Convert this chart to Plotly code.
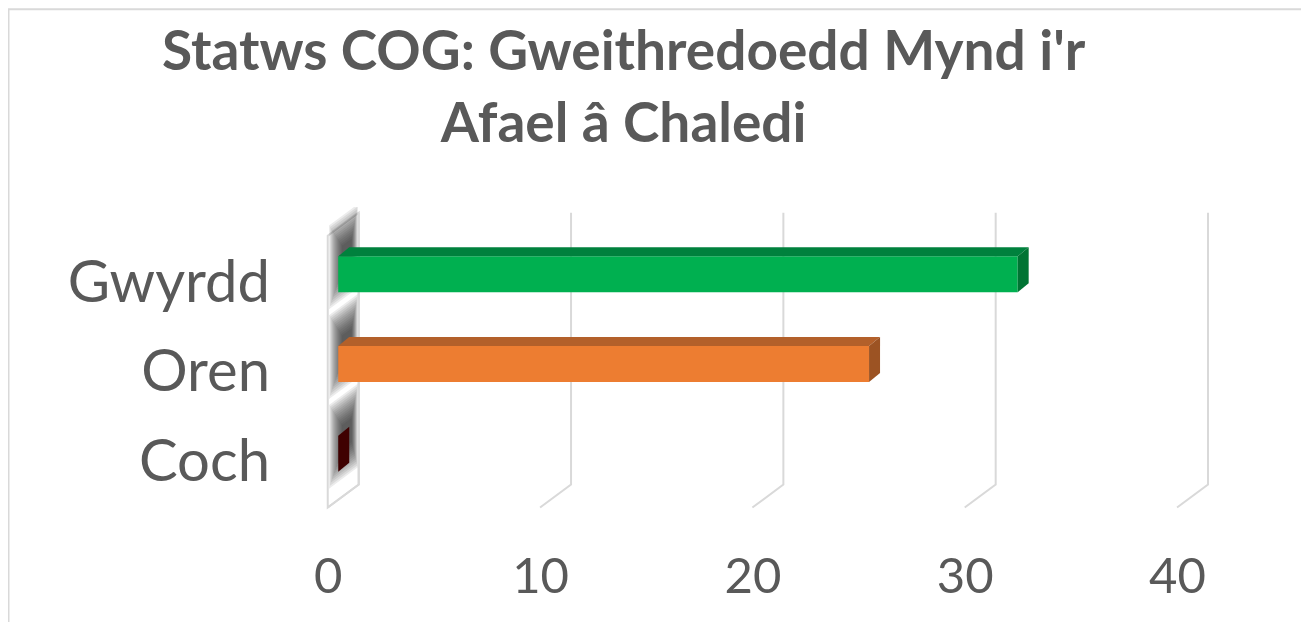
import plotly.graph_objects as go

categories = ["Coch", "Oren", "Gwyrdd"]
values = [0, 25, 32]
tick_vals = [0, 10, 20, 30, 40]
title_text = "Statws COG: Gweithredoedd Mynd i'r<br>Afael â Chaledi"

FRONT = {"Coch": "#c00000", "Oren": "#ed7d31", "Gwyrdd": "#00b050"}
TOP = {"Coch": "#5a0000", "Oren": "#b3602a", "Gwyrdd": "#00813d"}
SIDE = {"Coch": "#3f0000", "Oren": "#9c5323", "Gwyrdd": "#007433"}
GRID = "#d9d9d9"
TEXT = "#595959"

OFF = 8                # page body margin; targets below are in window pixels
W, H = 1309 - OFF, 622 - OFF
PX_X = 21.25           # pixels per x unit
PX_Y = 90.0            # pixels per category
X_RANGE = [-1, 42]
Y_RANGE = [-0.75, 2.75]
L = 338 - OFF - (0 - X_RANGE[0]) * PX_X
PW = (X_RANGE[1] - X_RANGE[0]) * PX_X
T = 274 - OFF - (Y_RANGE[1] - 2) * PX_Y
PH = (Y_RANGE[1] - Y_RANGE[0]) * PX_Y
R = W - L - PW
B = H - T - PH

BAR_W = 0.4
DEPTH = (11, -9)       # bar top/side offset in px
WALL_FRONT = -10.5     # px offset of wall front edge from x=0
WALL_D = (31, -23)     # wall depth vector in px
WALL_TOP = 2.43        # y units at front edge
WALL_BOT = -0.6


def u(x, y, dxp=0.0, dyp=0.0):
    return x + dxp / PX_X, y - dyp / PX_Y


def wall_pt(t, y_front):
    return u(0, y_front, WALL_FRONT + WALL_D[0] * t, WALL_D[1] * t)


def path(pts):
    return "M " + " L ".join(f"{x:.4f},{y:.4f}" for x, y in pts) + " Z"


def ppx(px, py):
    # window pixel -> paper coords
    return (px - OFF - L) / PW, (T + PH - (py - OFF)) / PH


fig = go.Figure()
shapes = []

# back wall
wall = [wall_pt(0, WALL_BOT), wall_pt(0, WALL_TOP), wall_pt(1, WALL_TOP), wall_pt(1, WALL_BOT)]
shapes.append(dict(type="path", path=path(wall), xref="x", yref="y", layer="below",
                   fillcolor="white", line=dict(color=GRID, width=2)))

# soft shadows on the wall (stacked translucent layers fake a blur)
ys = list(range(len(categories)))
N = 14
for yi in ys:
    for k in range(N):
        f = k / (N - 1)
        h = (42 - 30 * f) / PX_Y
        c = yi + 6 / PX_Y
        t0, t1 = 0.04 + 0.42 * f, 0.97 - 0.2 * f
        pts = [wall_pt(t0, c - h), wall_pt(t0, c + h), wall_pt(t1, c + h), wall_pt(t1, c - h)]
        shapes.append(dict(type="path", path=path(pts), xref="x", yref="y", layer="below",
                           fillcolor="rgba(40,40,40,0.085)", line=dict(width=0)))

# gridlines (back plane + floor diagonal)
for v in tick_vals:
    bx = v + (WALL_FRONT + WALL_D[0]) / PX_X
    fx = v + WALL_FRONT / PX_X
    top_b = WALL_TOP - WALL_D[1] / PX_Y
    bot_b = WALL_BOT - WALL_D[1] / PX_Y
    shapes.append(dict(type="path", path=f"M {fx:.4f},{WALL_BOT} L {bx:.4f},{bot_b:.4f} L {bx:.4f},{top_b:.4f}",
                       xref="x", yref="y", layer="below", line=dict(color=GRID, width=2)))

# chart border
x0, y0 = ppx(8, 8)
x1, y1 = ppx(1307, 640)
shapes.append(dict(type="rect", xref="paper", yref="paper", x0=x0, y0=y0, x1=x1, y1=y1,
                   line=dict(color="#d9d9d9", width=2), layer="below"))

fig.add_trace(go.Bar(
    x=values, y=ys, orientation="h", width=BAR_W,
    marker=dict(color=[FRONT[c] for c in categories], line=dict(width=0)),
    hoverinfo="skip", showlegend=False))

for yi, cat, v in zip(ys, categories, values):
    top = yi + BAR_W / 2
    bot = yi - BAR_W / 2
    if v > 0:
        pts = [u(0, top), u(v, top), u(v, top, *DEPTH), u(0, top, *DEPTH), u(0, top)]
        fig.add_trace(go.Scatter(x=[p[0] for p in pts], y=[p[1] for p in pts], mode="lines",
                                 fill="toself", fillcolor=TOP[cat], line=dict(width=0),
                                 hoverinfo="skip", showlegend=False))
    pts = [u(v, bot), u(v, top), u(v, top, *DEPTH), u(v, bot, *DEPTH), u(v, bot)]
    fig.add_trace(go.Scatter(x=[p[0] for p in pts], y=[p[1] for p in pts], mode="lines",
                             fill="toself", fillcolor=SIDE[cat], line=dict(width=0),
                             hoverinfo="skip", showlegend=False))

tx, ty = ppx(624, 13)
fig.add_annotation(text=title_text, x=tx, y=ty, xref="paper", yref="paper",
                   xanchor="center", yanchor="top", showarrow=False,
                   font=dict(family="Lato", size=55, color=TEXT, weight="bold"))

fig.update_layout(
    width=W, height=H,
    margin=dict(l=L, r=R, t=T, b=B, autoexpand=False),
    paper_bgcolor="white", plot_bgcolor="rgba(0,0,0,0)",
    xaxis=dict(range=X_RANGE, tickvals=tick_vals, showgrid=False, zeroline=False,
               showline=False, ticks="", ticklabelshift=-10, ticklabelstandoff=22,
               tickfont=dict(family="Lato", size=49, color=TEXT), fixedrange=True),
    yaxis=dict(range=Y_RANGE, tickvals=ys, ticktext=categories, showgrid=False,
               zeroline=False, showline=False, ticks="", ticklabelstandoff=46,
               ticklabelshift=7,
               tickfont=dict(family="Lato", size=58, color=TEXT), fixedrange=True),
    shapes=shapes,
    showlegend=False,
)

fig.write_html("out.html")
